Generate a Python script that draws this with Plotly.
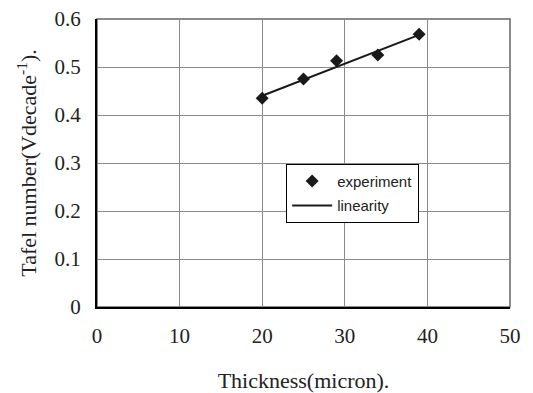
import plotly.graph_objects as go

# data
thickness = [20, 25, 29, 34, 39]
tafel = [0.435, 0.475, 0.513, 0.525, 0.568]
fit_x = [20, 39]
fit_y = [0.440, 0.567]

x_ticks = [0, 10, 20, 30, 40, 50]
x_ticktext = ["0", "10", "20", "30", "40", "50"]
y_ticks = [0, 0.1, 0.2, 0.3, 0.4, 0.5, 0.6]
y_ticktext = ["0", "0.1", "0.2", "0.3", "0.4", "0.5", "0.6"]

serif = "Liberation Serif, Times New Roman, serif"
sans = "Liberation Sans, Arial, sans-serif"

fig = go.Figure()
fig.add_trace(go.Scatter(x=thickness, y=tafel, mode="markers", name="experiment",
                         legendgroup="a",
                         marker=dict(symbol="diamond", size=10, color="#1a1a1a")))
fig.add_trace(go.Scatter(x=fit_x, y=fit_y, mode="lines", name="linearity",
                         legendgroup="b",
                         line=dict(color="#1a1a1a", width=2)))

# page body has an 8px margin, so the figure is 525x385
fig.update_layout(
    width=525, height=385,
    margin=dict(l=89, r=23, t=11, b=86),
    paper_bgcolor="white", plot_bgcolor="white",
    showlegend=True,
    legend=dict(x=0.458, y=0.497, xanchor="left", yanchor="top",
                bgcolor="white", bordercolor="black", borderwidth=1,
                font=dict(family=sans, size=15, color="#222"),
                tracegroupgap=2, itemwidth=40),
    xaxis=dict(range=[0, 50], tickvals=x_ticks, ticktext=x_ticktext,
               automargin=False, ticklabeloverflow="allow",
               showgrid=True, gridcolor="#8a8a8a", gridwidth=1,
               showline=True, linecolor="black", linewidth=2,
               zeroline=False, ticks="", ticklabelstandoff=9,
               tickfont=dict(family=serif, size=21, color="#222"),
               title=dict(text="Thickness(micron).", standoff=27,
                          font=dict(family=serif, size=22, color="#222"))),
    yaxis=dict(range=[0, 0.6], tickvals=y_ticks, ticktext=y_ticktext,
               automargin=False, ticklabeloverflow="allow",
               showgrid=True, gridcolor="#8a8a8a", gridwidth=1,
               showline=True, linecolor="black", linewidth=2,
               zeroline=False, ticks="", ticklabelstandoff=10,
               tickfont=dict(family=serif, size=21, color="#222"),
               title=dict(text="Tafel number(Vdecade<sup>-1</sup>).", standoff=12,
                          font=dict(family=serif, size=22, color="#222"))),
    shapes=[dict(type="rect", xref="x domain", yref="y domain", x0=0, x1=1, y0=0, y1=1,
                 line=dict(color="#666", width=1.5), layer="below")],
)

fig.write_html("out.html")
